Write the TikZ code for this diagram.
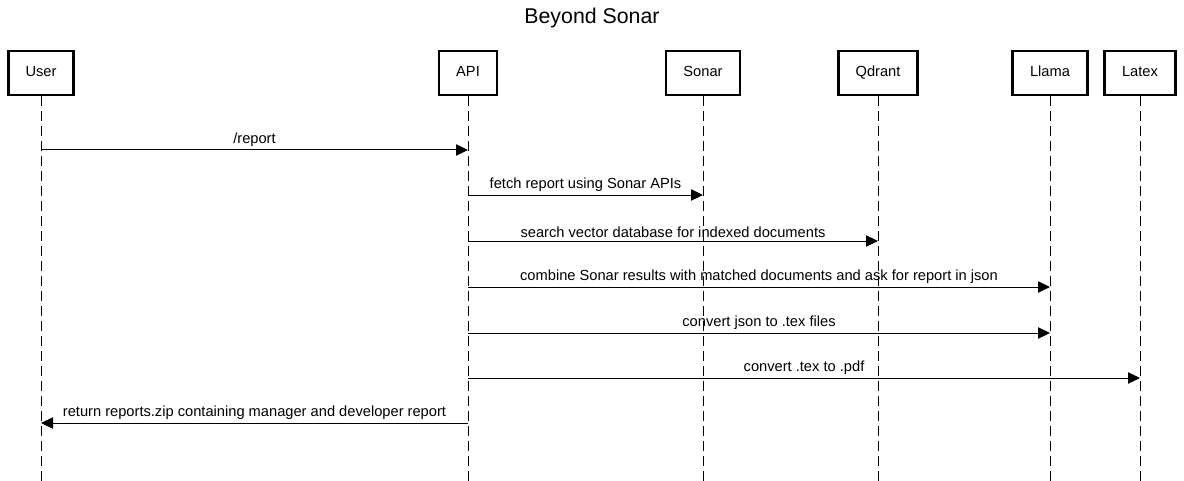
\documentclass[tikz,border=0pt]{standalone}
\usepackage{fontspec}
\setmainfont{Liberation Sans}
\usepackage{tikz}
\usetikzlibrary{positioning, arrows.meta}

\begin{document}
\begin{tikzpicture}[x=0.75pt, y=-0.75pt]
		\tikzstyle{box} = [draw=black, line width=2pt, fill=white, inner xsep=13pt, minimum height=33pt, text height=8pt, text depth=2.5pt, font=\fontsize{11}{13}\selectfont]
		\tikzstyle{lifeline} = [dash pattern=on 7.5pt off 3.75pt, line width=0.75pt]
		\tikzstyle{msg} = [-{Triangle[length=9pt, width=8.5pt]}, line width=0.75pt]
		\tikzstyle{lbl} = [anchor=south, inner sep=2pt, font=\fontsize{11}{13}\selectfont]
		\useasboundingbox (0,0) rectangle (1184,481);
		\node [font=\fontsize{16}{18}\selectfont] (title) at (592,18) {Beyond Sonar};
		
		\node [box] (v1) at (41,73) {User};
		\node [box] (v2) at (468,73) {API};
		\node [box] (v3) at (703,73) {Sonar};
		\node [box] (v4) at (878,73) {Qdrant};
		\node [box] (v5) at (1050,73) {Llama};
		\node [box] (v6) at (1140,73) {Latex};
		
		% lifelines
		\foreach \i in {1,...,6}
			\coordinate (e\i) at (v\i |- 0,481);
		\foreach \i in {1,...,6}
			\draw [lifeline] (v\i) -- (e\i);
		
		% message rows
		\coordinate (m1) at (0,150);
		\coordinate (m2) at (0,195);
		\coordinate (m3) at (0,241);
		\coordinate (m4) at (0,287);
		\coordinate (m5) at (0,333);
		\coordinate (m6) at (0,378);
		\coordinate (m7) at (0,423);
		
		\draw [msg] (v1 |- m1) -- node [lbl] {/report} (v2 |- m1);
		\draw [msg] (v2 |- m2) -- node [lbl] {fetch report using Sonar APIs} (v3 |- m2);
		\draw [msg] (v2 |- m3) -- node [lbl] {search vector database for indexed documents} (v4 |- m3);
		\draw [msg] (v2 |- m4) -- node [lbl] {combine Sonar results with matched documents and ask for report in json} (v5 |- m4);
		\draw [msg] (v2 |- m5) -- node [lbl] {convert json to .tex files} (v5 |- m5);
		\draw [msg] (v2 |- m6) -- node [lbl] {convert .tex to .pdf} (v6 |- m6);
		\draw [msg] (v2 |- m7) -- node [lbl] {return reports.zip containing manager and developer report} (v1 |- m7);
		\end{tikzpicture}
\end{document}
